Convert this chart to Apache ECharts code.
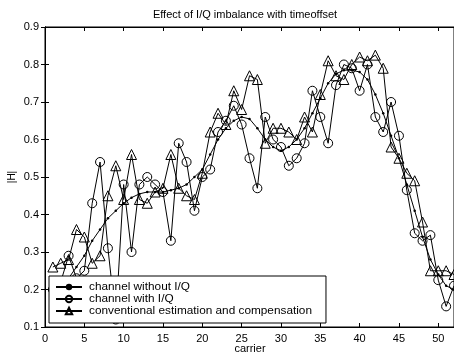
<!DOCTYPE html>
<html>
<head>
<meta charset="utf-8">
<script src="https://cdn.jsdelivr.net/npm/echarts@6/dist/echarts.min.js"></script>
<style>
html,body{margin:0;padding:0;background:#fff;overflow:hidden;}
#c{width:454px;height:356px;}
</style>
</head>
<body>
<div id="c"></div>
<script>
var titleText = "Effect of I/Q imbalance with timeoffset";
var xName = "carrier";
var yName = "|H|";
var seriesNames = ["channel without I/Q", "channel with I/Q", "conventional estimation and compensation"];
var carriers = [];
for (var i = 1; i <= 52; i++) carriers.push(i);
var withoutIQ = [0.20,0.21,0.23,0.26,0.29,0.33,0.36,0.39,0.41,0.43,0.445,0.455,0.46,0.46,0.46,0.465,0.47,0.48,0.50,0.52,0.56,0.60,0.63,0.65,0.66,0.655,0.63,0.60,0.58,0.57,0.58,0.60,0.63,0.67,0.71,0.75,0.775,0.785,0.785,0.78,0.76,0.72,0.67,0.61,0.55,0.48,0.41,0.34,0.28,0.24,0.21,0.20];
var withIQ = [0.20,0.22,0.29,0.23,0.25,0.43,0.54,0.31,0.12,0.48,0.30,0.48,0.50,0.48,0.46,0.33,0.59,0.54,0.41,0.50,0.52,0.62,0.65,0.69,0.64,0.55,0.47,0.66,0.60,0.58,0.53,0.55,0.59,0.73,0.66,0.59,0.745,0.80,0.79,0.73,0.80,0.66,0.62,0.70,0.61,0.465,0.35,0.33,0.345,0.225,0.155,0.21];
var conventional = [0.26,0.27,0.28,0.36,0.34,0.27,0.29,0.45,0.53,0.44,0.56,0.44,0.43,0.46,0.47,0.56,0.47,0.45,0.44,0.51,0.62,0.67,0.64,0.73,0.68,0.77,0.76,0.59,0.63,0.63,0.62,0.60,0.66,0.62,0.72,0.81,0.77,0.76,0.80,0.82,0.81,0.825,0.79,0.58,0.55,0.51,0.49,0.38,0.25,0.25,0.25,0.24];
var xTicks = [0,5,10,15,20,25,30,35,40,45,50];

function pairs(v){ return carriers.map(function(c,i){return [c, v[i]];}); }

var FONT = "Liberation Sans, Arial, sans-serif";
var chart = echarts.init(document.getElementById('c'), null, {renderer:'canvas'});
var tick = {show:true, inside:true, length:4, lineStyle:{color:'#000'}};
chart.setOption({
  animation:false,
  backgroundColor:'#fff',
  graphic:[
    {type:'text', x:245, y:15, style:{text:titleText, font:'11px '+FONT, fill:'#000', textAlign:'center', textVerticalAlign:'middle'}},
    {type:'text', x:12, y:177, rotation:Math.PI/2, style:{text:yName, font:'10px '+FONT, fill:'#000', textAlign:'center', textVerticalAlign:'middle'}},
    {type:'text', x:250, y:349, style:{text:xName, font:'11px '+FONT, fill:'#000', textAlign:'center', textVerticalAlign:'middle'}}
  ],
  grid:{left:45, top:27, right:-2, bottom:29, show:true, borderColor:'#000', borderWidth:1, backgroundColor:'#fff'},
  xAxis:[
    {type:'value', min:0, max:52, interval:5, position:'bottom',
      axisLabel:{color:'#000', fontSize:11, fontFamily:FONT, margin:6, customValues:xTicks},
      axisLine:{show:true, lineStyle:{color:'#000', width:1}},
      axisTick:Object.assign({customValues:xTicks}, tick), splitLine:{show:false}},
    {type:'value', min:0, max:52, interval:5, position:'top', axisLabel:{show:false},
      axisLine:{show:true, lineStyle:{color:'#000'}},
      axisTick:Object.assign({customValues:xTicks}, tick), splitLine:{show:false}}
  ],
  yAxis:[
    {type:'value', min:0.1, max:0.9, interval:0.1, position:'left',
      axisLabel:{color:'#000', fontSize:11, fontFamily:FONT, margin:6, formatter:function(v){return (Math.round(v*10)/10).toString();}},
      axisLine:{show:true, lineStyle:{color:'#000', width:1}}, axisTick:tick, splitLine:{show:false}},
    {type:'value', min:0.1, max:0.9, interval:0.1, position:'right', axisLabel:{show:false},
      axisLine:{show:true, lineStyle:{color:'#000'}}, axisTick:tick, splitLine:{show:false}}
  ],
  legend:{
    show:true, orient:'vertical', left:49, top:276,
    backgroundColor:'#fff', borderColor:'#000', borderWidth:1, borderRadius:0,
    padding:[5,14,6,6], itemGap:0, itemWidth:26, itemHeight:8,
    textStyle:{color:'#000', fontSize:11.8, fontFamily:FONT, lineHeight:11, padding:[0,0,0,2]},
    data:seriesNames
  },
  series:[
    {name:seriesNames[0], type:'line', data:pairs(withoutIQ), symbol:'circle', symbolSize:2.5, showSymbol:true,
      lineStyle:{color:'#000', width:1}, itemStyle:{color:'#000'}, z:2},
    {name:seriesNames[1], type:'line', data:pairs(withIQ), symbol:'circle', symbolSize:9, showSymbol:true,
      lineStyle:{color:'#000', width:1}, itemStyle:{color:'rgba(0,0,0,0)', borderColor:'#000', borderWidth:1}, z:3},
    {name:seriesNames[2], type:'line', data:pairs(conventional), symbol:'triangle', symbolSize:10, showSymbol:true,
      lineStyle:{color:'#000', width:1}, itemStyle:{color:'rgba(0,0,0,0)', borderColor:'#000', borderWidth:1}, z:4}
  ]
});
</script>
</body>
</html>
